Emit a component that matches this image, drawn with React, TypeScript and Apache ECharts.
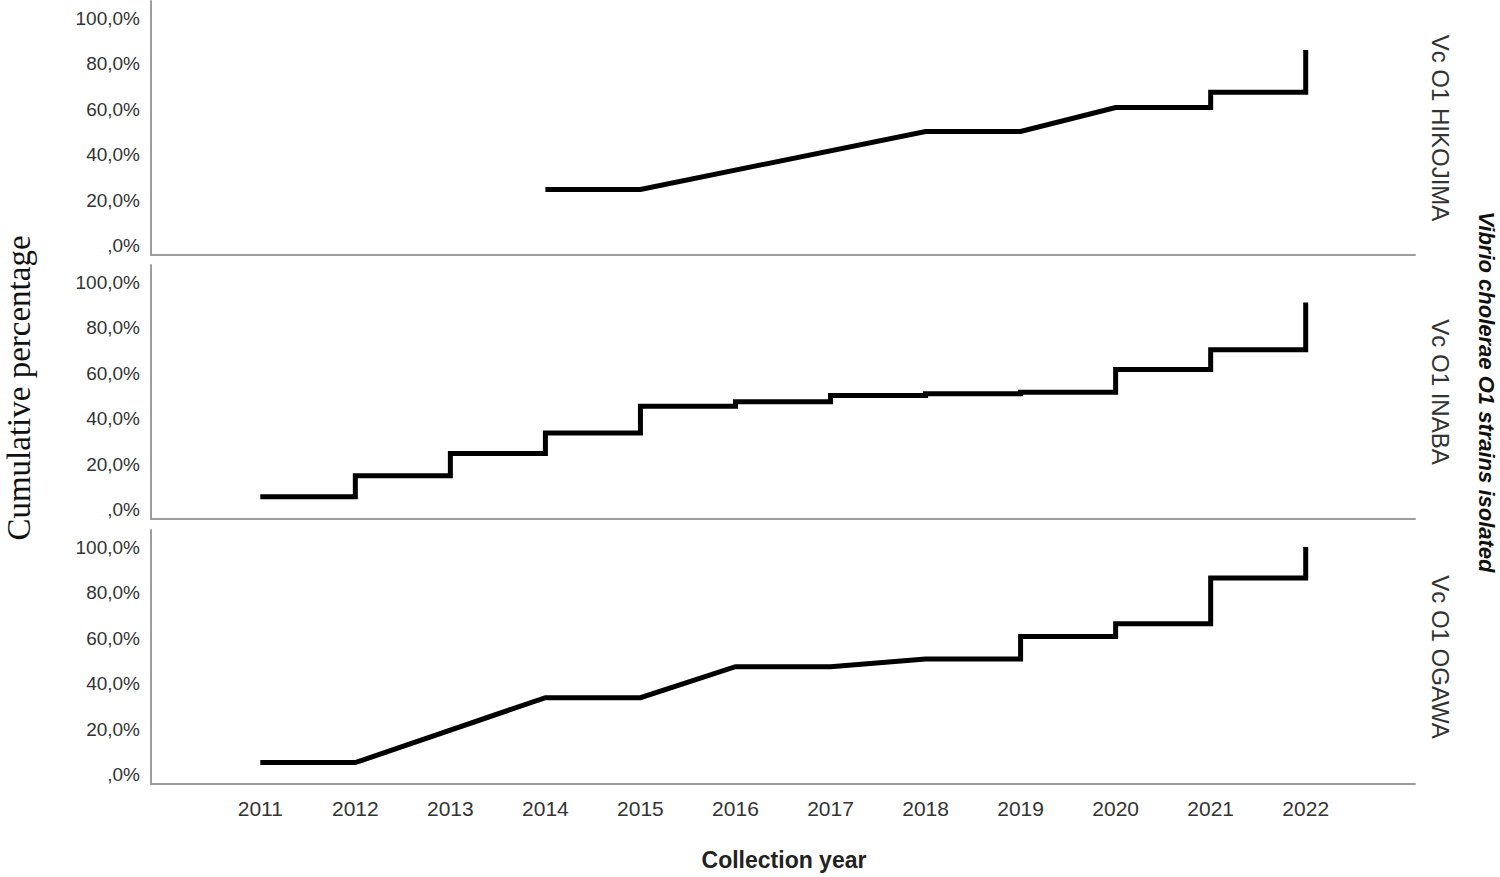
import React, { useEffect, useRef } from "react";
import * as echarts from "echarts";

const yearTicks = [2011, 2012, 2013, 2014, 2015, 2016, 2017, 2018, 2019, 2020, 2021, 2022];
const pctTicks = [0, 20, 40, 60, 80, 100];
const panelLabels = ["Vc O1 HIKOJIMA", "Vc O1 INABA", "Vc O1 OGAWA"];

const hikojima: number[][] = [
  [2014, 24.8], [2015, 24.8], [2018, 50.2], [2019, 50.2], [2020, 60.7], [2021, 60.7],
  [2021, 67.4], [2022, 67.4], [2022, 86],
];
const inaba: number[][] = [
  [2011, 5.8], [2012, 5.8], [2012, 15], [2013, 15], [2013, 24.8], [2014, 24.8],
  [2014, 33.8], [2015, 33.8], [2015, 45.5], [2016, 45.5], [2016, 47.5], [2017, 47.5],
  [2017, 50.2], [2018, 50.2], [2018, 51], [2019, 51], [2019, 51.6], [2020, 51.6],
  [2020, 61.6], [2021, 61.6], [2021, 70.3], [2022, 70.3], [2022, 91],
];
const ogawa: number[][] = [
  [2011, 5.4], [2012, 5.4], [2014, 33.9], [2015, 33.9], [2016, 47.5], [2017, 47.5],
  [2018, 50.9], [2019, 50.9], [2019, 60.8], [2020, 60.8], [2020, 66.3], [2021, 66.3],
  [2021, 86.4], [2022, 86.4], [2022, 100],
];
const seriesData = [hikojima, inaba, ogawa];

export default function App() {
  const ref = useRef<HTMLDivElement>(null);
  useEffect(() => {
    if (!ref.current) return;
    const chart = echarts.init(ref.current, null, { renderer: "svg" });
    const tops = [1, 265, 530];
    const axisColor = "#9c9c9c";
    const option: any = {
      animation: false,
      backgroundColor: "#ffffff",
      grid: tops.map((t) => ({ left: 151, width: 1264, top: t, height: 254, containLabel: false })),
      xAxis: tops.map((_, i) => ({
        type: "value",
        gridIndex: i,
        min: 2009.85,
        max: 2023.15,
        axisLine: { show: true, onZero: false, lineStyle: { color: axisColor, width: 2 } },
        axisTick: { show: false },
        splitLine: { show: false },
        axisLabel:
          i === 2
            ? {
                show: true,
                customValues: yearTicks,
                formatter: (v: number) => String(v),
                fontSize: 21,
                color: "#333",
                margin: 14,
                fontFamily: "Liberation Sans, Arial, sans-serif",
              }
            : { show: false },
      })),
      yAxis: tops.map((_, i) => ({
        type: "value",
        gridIndex: i,
        min: -4,
        max: 107.5,
        axisLine: { show: true, onZero: false, lineStyle: { color: axisColor, width: 2 } },
        axisTick: { show: false },
        splitLine: { show: false },
        axisLabel: {
          show: true,
          customValues: pctTicks,
          formatter: (v: number) => (v === 0 ? "" : String(v)) + ",0%",
          fontSize: 19,
          color: "#333",
          margin: 11,
          fontFamily: "Liberation Sans, Arial, sans-serif",
        },
      })),
      series: seriesData.map((d, i) => ({
        type: "line",
        xAxisIndex: i,
        yAxisIndex: i,
        data: d,
        symbol: "none",
        showSymbol: false,
        lineStyle: { color: "#000", width: 5, join: "miter", cap: "butt" },
      })),
      graphic: [
        {
          type: "text",
          x: 19,
          y: 388,
          rotation: Math.PI / 2,
          style: {
            text: "Cumulative percentage",
            fontSize: 33,
            fontFamily: "Liberation Serif, Times New Roman, serif",
            fill: "#111",
            align: "center",
            verticalAlign: "middle",
          },
        },
        {
          type: "text",
          x: 784,
          y: 860,
          style: {
            text: "Collection year",
            fontSize: 23,
            fontWeight: "bold",
            fontFamily: "Liberation Sans, Arial, sans-serif",
            fill: "#222",
            align: "center",
            verticalAlign: "middle",
          },
        },
        {
          type: "text",
          x: 1486,
          y: 392,
          rotation: -Math.PI / 2,
          style: {
            text: "Vibrio cholerae O1 strains isolated",
            fontSize: 22,
            fontWeight: "bold",
            fontStyle: "italic",
            fontFamily: "Liberation Sans, Arial, sans-serif",
            fill: "#111",
            align: "center",
            verticalAlign: "middle",
          },
        },
        ...panelLabels.map((t, i) => ({
          type: "text",
          x: 1440,
          y: tops[i] + 127,
          rotation: -Math.PI / 2,
          style: {
            text: t,
            fontSize: 24,
            fontFamily: "Liberation Sans, Arial, sans-serif",
            fill: "#333",
            align: "center",
            verticalAlign: "middle",
          },
        })),
      ],
    };
    chart.setOption(option);
    return () => chart.dispose();
  }, []);
  return (
    <div
      ref={ref}
      style={{ position: "absolute", left: 0, top: 0, width: 1500, height: 877, background: "#fff" }}
    />
  );
}
